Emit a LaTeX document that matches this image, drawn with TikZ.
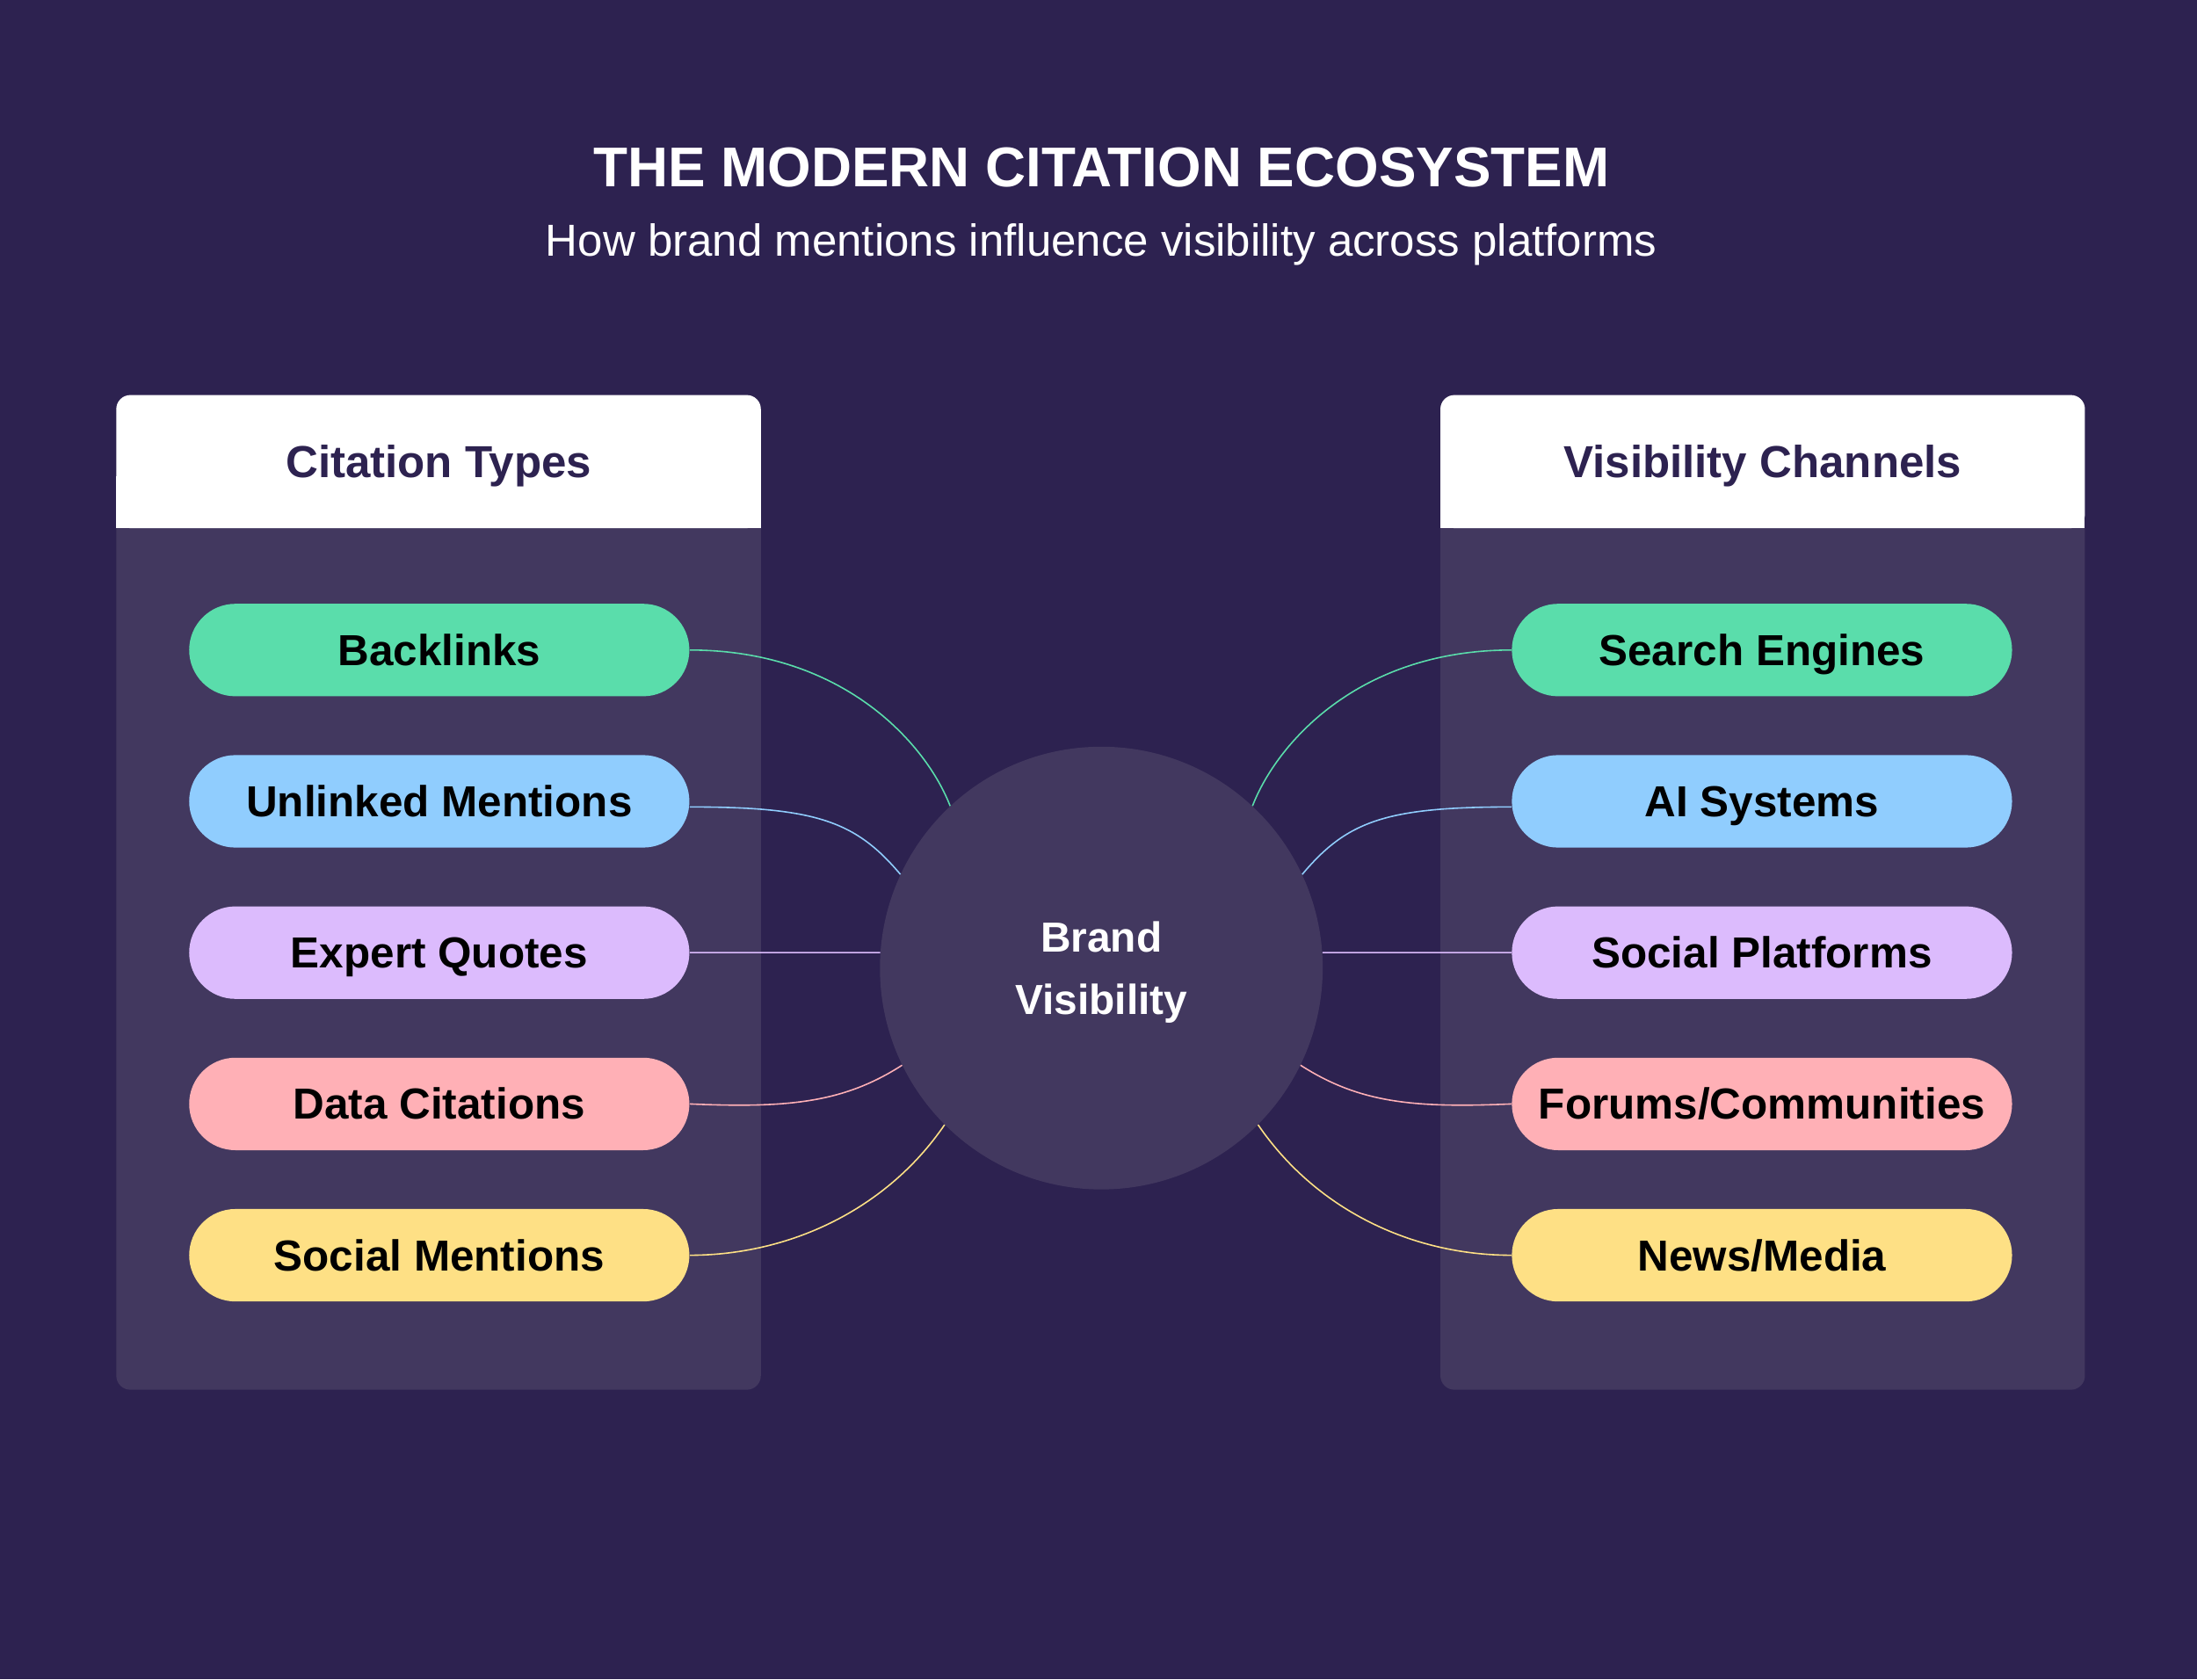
\documentclass[tikz,border=0pt]{standalone}
\usepackage{fontspec}
\setmainfont{Liberation Sans}
\usetikzlibrary{positioning}

\definecolor{bg}{HTML}{2D2250}
\definecolor{panel}{HTML}{42385F}
\definecolor{cgreen}{HTML}{5ADDAB}
\definecolor{cblue}{HTML}{90CDFE}
\definecolor{clilac}{HTML}{DCBBFD}
\definecolor{cpink}{HTML}{FFB0B6}
\definecolor{cyellow}{HTML}{FEE085}

\begin{document}
\begin{tikzpicture}[x=1pt,y=1pt,
  pill/.style={rectangle, rounded corners=33pt, minimum width=357pt, minimum height=66pt,
    inner sep=0pt, text height=22pt, text depth=0pt, text=black,
    font=\fontsize{31}{37}\selectfont\bfseries},
  head/.style={anchor=base, text=bg, font=\fontsize{32}{38}\selectfont\bfseries},
  link/.style={line width=1pt}]
\useasboundingbox (0,0) rectangle (1568,-1198.6);
\fill[bg] (0,0) rectangle (1568,-1198.6);

\node[anchor=base, text=white, font=\fontsize{40}{48}\selectfont\bfseries] (title) at (786,-133) {THE MODERN CITATION ECOSYSTEM};
\node[anchor=base, text=white, font=\fontsize{32}{38}\selectfont] (subtitle) at (786,-183) {How brand mentions influence visibility across platforms};

% panels with white header
\foreach \x in {83,1028} {
  \fill[panel, rounded corners=10pt] (\x,-282) rectangle +(460,-710);
  \fill[white, rounded corners=10pt] (\x,-282) rectangle +(460,-95);
  \fill[white] (\x,-340) rectangle +(460,-37);
}
\node[head] (ctypes) at (313,-341) {Citation Types};
\node[head] (vchan) at (1258,-341) {Visibility Channels};

% citation types
\node[pill, fill=cgreen] (bl) at (313.5,-464) {Backlinks};
\node[pill, fill=cblue] (um) at (313.5,-572) {Unlinked Mentions};
\node[pill, fill=clilac] (eq) at (313.5,-680) {Expert Quotes};
\node[pill, fill=cpink] (dc) at (313.5,-788) {Data Citations};
\node[pill, fill=cyellow] (sm) at (313.5,-896) {Social Mentions};

% visibility channels
\node[pill, fill=cgreen] (se) at (1257.5,-464) {Search Engines};
\node[pill, fill=cblue] (ai) at (1257.5,-572) {AI Systems};
\node[pill, fill=clilac] (sp) at (1257.5,-680) {Social Platforms};
\node[pill, fill=cpink] (fc) at (1257.5,-788) {Forums/Communities};
\node[pill, fill=cyellow] (nm) at (1257.5,-896) {News/Media};

% hub
\node[circle, fill=panel, minimum size=316pt, inner sep=0pt, align=center, text=white,
  text depth=0pt, font=\fontsize{30}{45}\selectfont\bfseries] (hub) at (786,-691) {Brand\\Visibility};

% links
\draw[link, cgreen] (bl.east) .. controls +(110,0) and +(-17,44) .. (hub.133);
\draw[link, cblue] ([yshift=-4pt]um.east) .. controls +(90,0) and +(-32,38) .. (hub.155);
\draw[link, clilac] (eq.east) -- (hub.176);
\draw[link, cpink] (dc.east) .. controls +(70,-3) and +(-42,-27) .. (hub.206);
\draw[link, cyellow] (sm.east) .. controls +(72,0) and +(-41,-60) .. (hub.225);

\draw[link, cgreen] (hub.47) .. controls +(17,44) and +(-110,0) .. (se.west);
\draw[link, cblue] (hub.25) .. controls +(32,38) and +(-90,0) .. ([yshift=-4pt]ai.west);
\draw[link, clilac] (hub.4) -- (sp.west);
\draw[link, cpink] (hub.334) .. controls +(42,-27) and +(-70,-3) .. (fc.west);
\draw[link, cyellow] (hub.315) .. controls +(41,-60) and +(-72,0) .. (nm.west);
\end{tikzpicture}
\end{document}
